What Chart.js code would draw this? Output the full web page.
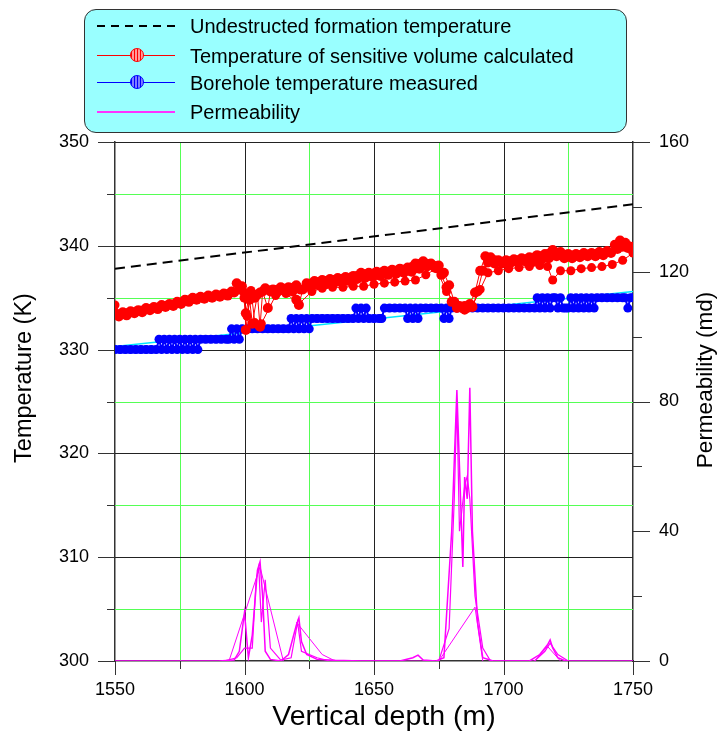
<!DOCTYPE html>
<html>
<head>
<meta charset="utf-8">
<script src="https://cdn.jsdelivr.net/npm/chart.js@4.4.1/dist/chart.umd.min.js"></script>
<style>
  body { margin: 0; background: #fff; }
  #wrap { position: relative; width: 717px; height: 740px; }
  #legend {
    position: absolute; left: 84px; top: 9px; width: 541px; height: 122px;
    background: #99ffff; border: 1px solid #333; border-radius: 12px;
    font-family: Arial, "Liberation Sans", sans-serif; font-size: 20px; color: #000;
  }
  .row { position: absolute; left: 0; width: 100%; height: 28px; }
  .row .txt { position: absolute; left: 105px; top: 0; line-height: 28px; white-space: nowrap; }
  .row .ln { position: absolute; left: 12px; width: 78px; top: 13px; height: 1px; }
  .row .dot {
    position: absolute; left: 45px; top: 6px; width: 12px; height: 12px; border-radius: 50%;
  }
</style>
</head>
<body>
<div id="wrap">
  <canvas id="myChart" width="717" height="740"></canvas>
  <div id="legend">
    <div class="row" style="top:2px">
      <div class="ln" style="height:2px;top:13px;background:repeating-linear-gradient(90deg,#000 0 8px,transparent 8px 14px)"></div>
      <div class="txt">Undestructed formation temperature</div>
    </div>
    <div class="row" style="top:32px">
      <div class="ln" style="background:#ff0000"></div>
      <div class="dot" style="border:1px solid #ff0000;background:repeating-linear-gradient(90deg,#ff0000 0 1px,#ff9999 1px 3px)"></div>
      <div class="txt">Temperature of sensitive volume calculated</div>
    </div>
    <div class="row" style="top:59px">
      <div class="ln" style="background:#0000ff"></div>
      <div class="dot" style="border:1px solid #0000ff;background:repeating-linear-gradient(90deg,#0000ff 0 1px,#7f7fff 1px 3px)"></div>
      <div class="txt">Borehole temperature measured</div>
    </div>
    <div class="row" style="top:88px">
      <div class="ln" style="height:2px;background:#ff33ff"></div>
      <div class="txt">Permeability</div>
    </div>
  </div>
</div>
<script>
// undisturbed formation temperature (dashed)
var formationDepth = [1550, 1750];
var formationTemp = [337.8, 344.0];

// calculated temperature of sensitive volume, several overlapping runs
var redDepthA = [1550, 1553, 1556, 1559, 1562, 1565, 1568, 1571, 1574, 1577, 1580, 1583, 1586, 1589, 1592, 1595, 1597, 1599,
  1600.5, 1602, 1604, 1606, 1608, 1611, 1614, 1617, 1620, 1621.5, 1624, 1627, 1630, 1633, 1636, 1639, 1642, 1645, 1648,
  1651, 1654, 1657, 1660, 1663, 1666, 1669, 1672, 1675, 1677, 1679, 1681, 1683, 1685, 1687, 1689, 1691, 1693, 1695, 1698,
  1701, 1704, 1707, 1710, 1713, 1716, 1719, 1722, 1725, 1728, 1731, 1734, 1737, 1740, 1743, 1745, 1747, 1750];
var redTempA = [333.5, 333.6, 333.7, 333.8, 334.0, 334.1, 334.3, 334.4, 334.6, 334.8, 335.0, 335.1, 335.2, 335.3, 335.4, 335.6, 336.4, 336.1,
  333.5, 335.4, 335.0, 335.5, 335.9, 335.8, 336.0, 336.0, 336.2, 335.8, 336.4, 336.6, 336.7, 336.8, 336.9, 337.0, 337.1, 337.4, 337.4,
  337.5, 337.6, 337.7, 337.8, 337.9, 338.3, 338.5, 338.3, 338.1, 337.4, 336.2, 334.6, 334.2, 334.2, 334.4, 335.5, 337.6, 339.0, 338.9, 338.6,
  338.6, 338.7, 338.8, 338.9, 339.1, 339.2, 339.6, 339.4, 339.2, 339.2, 339.3, 339.3, 339.4, 339.5, 340.1, 340.5, 340.3, 339.9];
var redDepthB = [1551.5, 1554.5, 1557.5, 1560.5, 1563.5, 1566.5, 1569.5, 1572.5, 1575.5, 1578.5, 1581.5, 1584.5, 1587.5, 1590.5,
  1593.5, 1596, 1598, 1600, 1600.5, 1602, 1603, 1605, 1606, 1607, 1609, 1610, 1612.5, 1615.5, 1618.5, 1620, 1621, 1622.5, 1625.5,
  1628.5, 1631.5, 1634.5, 1637.5, 1640.5, 1643.5, 1646.5, 1649.5, 1652.5, 1655.5, 1658.5, 1661.5, 1664.5, 1667.5, 1670.5, 1673.5,
  1676, 1678, 1680, 1682, 1684, 1686, 1688, 1690, 1692, 1694, 1696.5, 1699.5, 1702.5, 1705.5, 1708.5, 1711.5, 1714.5, 1717.5,
  1720.5, 1723.5, 1726.5, 1729.5, 1732.5, 1735.5, 1738.5, 1741.5, 1744, 1746, 1748, 1750];
var redTempB = [333.2, 333.3, 333.5, 333.6, 333.8, 333.9, 334.1, 334.2, 334.4, 334.6, 334.8, 334.9, 335.0, 335.1,
  335.2, 335.5, 335.8, 335.0, 331.9, 334.8, 332.5, 335.3, 332.2, 335.6, 334.0, 335.6, 335.5, 335.7, 335.6, 334.8, 334.3, 335.8, 336.0,
  336.2, 336.3, 336.4, 336.5, 336.6, 336.8, 336.9, 337.0, 337.1, 337.2, 337.3, 337.4, 337.5, 337.8, 338.0, 337.9,
  337.2, 336.0, 334.6, 334.0, 334.0, 334.0, 334.1, 335.6, 337.6, 338.4, 338.3, 338.3, 338.3, 338.4, 338.5, 338.5, 338.6, 338.8,
  339.0, 338.8, 338.8, 338.9, 339.0, 339.0, 339.1, 339.3, 339.7, 339.9, 339.8, 339.5];
var redDepthC = [1550, 1551, 1599.5, 1601, 1602.5, 1604, 1605.5, 1606.5, 1612, 1616, 1621, 1626, 1630, 1634, 1638, 1642, 1646, 1650,
  1654, 1658, 1662, 1666, 1670, 1674, 1678, 1682, 1685, 1688, 1691, 1694, 1698, 1702, 1706, 1710, 1714, 1717, 1719, 1722, 1726, 1730,
  1734, 1738, 1742, 1746, 1750];
var redTempC = [334.3, null, 335.6, 333.2, 335.7, 332.6, 332.3, 332.5, 335.2, 335.4, 334.4, 335.6, 335.9, 336.0, 336.0, 336.1, 336.1, 336.3,
  336.4, 336.5, 336.6, 336.7, 337.2, 337.8, 335.6, 334.3, 333.8, 334.2, 335.8, 337.4, 337.6, 337.8, 337.9, 338.0, 338.1, 338.0, 336.7, 337.6, 337.6, 337.8,
  337.9, 338.0, 338.2, 338.6, 339.3];

// measured borehole temperature (1 K resolution steps)
var blueDepth = [1550, 1552, 1554, 1556, 1558, 1560, 1562, 1564, 1566,
  1567, 1568, 1569, 1570, 1571, 1572, 1573, 1574, 1575, 1576, 1577, 1578, 1579, 1580, 1581, 1582,
  1583, 1585, 1587, 1589, 1591, 1593, 1594, 1595, 1596, 1597, 1598, 1599,
  1601, 1603, 1605, 1607, 1609, 1611, 1613, 1615, 1617, 1618, 1619, 1620, 1621, 1622, 1623, 1624, 1625,
  1626, 1628, 1630, 1632, 1634, 1636, 1638, 1640, 1642, 1643, 1644, 1645, 1646, 1647, 1648, 1650, 1652, 1653,
  1654, 1656, 1658, 1660, 1662, 1663, 1664, 1665, 1666, 1667, 1668, 1670, 1672, 1674, 1676, 1677, 1678, 1679, 1680,
  1682, 1684, 1686, 1688, 1690, 1692, 1694, 1696, 1698, 1700, 1702, 1704, 1706, 1708, 1710, 1712,
  1713, 1714, 1715, 1716, 1717, 1718, 1719, 1720, 1721, 1722, 1723, 1724, 1725, 1726, 1727, 1728, 1729, 1730,
  1731, 1732, 1733, 1734, 1735, 1736, 1738, 1740, 1742, 1744, 1746, 1747, 1748, 1749, 1750];
var blueTemp = [330, 330, 330, 330, 330, 330, 330, 330, 330,
  331, 330, 331, 330, 331, 330, 331, 330, 331, 330, 331, 330, 331, 330, 331, 330,
  331, 331, 331, 331, 331, 331, 331, 332, 331, 332, 331, 332,
  332, 332, 332, 332, 332, 332, 332, 332, 332, 333, 332, 333, 332, 333, 332, 333, 332,
  333, 333, 333, 333, 333, 333, 333, 333, 333, 334, 333, 334, 333, 334, 333, 333, 333, 333,
  334, 334, 334, 334, 334, 333, 334, 333, 334, 333, 334, 334, 334, 334, 334, 333, 334, 333, 334,
  334, 334, 334, 334, 334, 334, 334, 334, 334, 334, 334, 334, 334, 334, 334, 334,
  335, 334, 335, 334, 335, 334, 335, 335, 334, 335, 334, 334, 334, 335, 334, 335, 334, 335,
  334, 335, 334, 335, 334, 335, 335, 335, 335, 335, 335, 335, 334, 335, 335];

// thin cyan trend under the measured steps
var trendDepth = [1550, 1750];
var trendTemp = [330.3, 335.6];

// permeability (md), several runs
var permDepthA = [1550, 1590, 1596, 1598, 1600, 1601.5, 1603, 1605, 1606, 1607, 1608, 1610, 1614, 1617, 1620, 1621, 1622, 1624, 1628,
  1635, 1645, 1660, 1665, 1667, 1669, 1674, 1677, 1680, 1682, 1683, 1684.3, 1685, 1686, 1687, 1688, 1690, 1692, 1696, 1710, 1714,
  1717, 1718, 1719, 1721, 1724, 1750];
var permA = [0, 0, 0.3, 3, 15, 1, 8, 28, 30.6, 20, 3, 0.5, 0, 2, 11, 13.3, 6, 2, 0.5,
  0.2, 0, 0, 1, 1.8, 0.3, 0, 1, 40, 83.5, 60, 29, 56.7, 50, 84.2, 40, 12, 1, 0, 0, 2,
  5, 6.5, 4, 1, 0, 0];
var permDepthB = [1592, 1597, 1600, 1603, 1604.5, 1605.5, 1606.5, 1608, 1610, 1614, 1618, 1620.5, 1622, 1628, 1633, 1675, 1679,
  1681, 1682, 1683, 1685, 1686, 1687, 1689, 1692, 1695, 1712, 1716, 1718, 1721, 1725];
var permB = [0, 1, 4, 4, 25, 29, 12, 25, 4, 0.3, 1, 12, 3, 1, 0, 0, 10,
  50, 80, 40, 54, 57, 50, 20, 4, 0, 0, 3, 5.5, 2, 0];
var permDepthC = [1594, 1606, 1615, 1616, 1620, 1630, 1635, 1636, 1675, 1689, 1692, 1693, 1712, 1717, 1722];
var permC = [0, 29, 0, null, 12, 2, 0, null, 0, 16.6, 0, null, 0, 4.5, 0];

function pts(xs, ys) {
  return xs.map(function (x, i) { return { x: x, y: ys[i] }; });
}

var FONT = 'Arial, "Liberation Sans", sans-serif';
var GREEN = '#55ff55';
var DARK = '#222';

// black major / green minor grid, drawn from the scales' own ticks
var gridLines = {
  id: 'gridLines',
  beforeDatasetsDraw: function (chart) {
    var ctx = chart.ctx, x = chart.scales.x, y = chart.scales.y;
    var a = chart.chartArea;
    ctx.save();
    ctx.lineWidth = 1;
    x.ticks.forEach(function (t) {
      if (t.value === x.min || t.value === x.max) return;
      var px = Math.round(x.getPixelForValue(t.value)) + 0.5;
      ctx.strokeStyle = t.value % 50 === 0 ? DARK : GREEN;
      ctx.beginPath(); ctx.moveTo(px, a.top); ctx.lineTo(px, a.bottom); ctx.stroke();
    });
    y.ticks.forEach(function (t) {
      if (t.value === y.min) return;
      var py = Math.round(y.getPixelForValue(t.value)) + 0.5;
      ctx.strokeStyle = t.value % 10 === 0 ? DARK : GREEN;
      ctx.beginPath(); ctx.moveTo(a.left, py); ctx.lineTo(a.right, py); ctx.stroke();
    });
    ctx.restore();
  }
};

function drawText(ctx, text, size, x, y, angle) {
  ctx.save();
  ctx.fillStyle = '#000';
  ctx.font = size + 'px ' + FONT;
  ctx.textAlign = 'center';
  ctx.textBaseline = 'middle';
  ctx.translate(x, y);
  ctx.rotate(angle);
  ctx.fillText(text, 0, 0);
  ctx.restore();
}

// tick marks drawn by hand: long major, short minor; axis titles placed as in the source
var tickMarks = {
  id: 'tickMarks',
  afterDraw: function (chart) {
    var ctx = chart.ctx, x = chart.scales.x, y = chart.scales.y, y1 = chart.scales.y1;
    var a = chart.chartArea;
    ctx.save();
    ctx.strokeStyle = '#333';
    ctx.lineWidth = 1;
    ctx.beginPath();
    y.ticks.forEach(function (t) {
      var py = Math.round(y.getPixelForValue(t.value)) + 0.5;
      var len = t.value % 10 === 0 ? 17 : 8;
      ctx.moveTo(a.left - len, py); ctx.lineTo(a.left, py);
    });
    y1.ticks.forEach(function (t) {
      var py = Math.round(y1.getPixelForValue(t.value)) + 0.5;
      var len = t.value % 40 === 0 ? 17 : 9;
      ctx.moveTo(a.right, py); ctx.lineTo(a.right + len, py);
    });
    x.ticks.forEach(function (t) {
      var px = Math.round(x.getPixelForValue(t.value)) + 0.5;
      var len = t.value % 50 === 0 ? 14 : 8;
      ctx.moveTo(px, a.bottom); ctx.lineTo(px, a.bottom + len);
    });
    ctx.stroke();
    ctx.restore();

    drawText(ctx, 'Vertical depth (m)', 28.5, 384, 717, 0);
    drawText(ctx, 'Temperature (K)', 23.5, 25, 378, -Math.PI / 2);
    drawText(ctx, 'Permeability (md)', 22.5, 706, 380, -Math.PI / 2);
  }
};

// dense runs merge into a solid band, long jumps stay thin
function bandWidth(thick) {
  return function (c) {
    var dx = Math.abs(c.p1.x - c.p0.x), dy = Math.abs(c.p1.y - c.p0.y);
    return dy < 5 && dx < 12 ? thick : 1;
  };
}

function redSet(label, data, r, thick) {
  return { label: label, data: data, borderColor: '#ff0000', backgroundColor: '#ff0000', borderWidth: 1,
    segment: { borderWidth: bandWidth(thick) },
    pointRadius: r, pointBorderWidth: 0, spanGaps: false, yAxisID: 'y' };
}
function permSet(label, data, w) {
  return { label: label, data: data, borderColor: '#ff00ff', borderWidth: w, pointRadius: 0, spanGaps: false, yAxisID: 'y1' };
}

var ctx = document.getElementById('myChart').getContext('2d');
var myChart = new Chart(ctx, {
  type: 'line',
  data: {
    datasets: [
      redSet('Temperature of sensitive volume calculated', pts(redDepthA, redTempA), 5, 7),
      redSet('calc B', pts(redDepthB, redTempB), 5, 6),
      redSet('calc C', pts(redDepthC, redTempC), 4.5, 1),
      { label: 'Borehole temperature measured', data: pts(blueDepth, blueTemp), borderColor: '#0000ff', backgroundColor: '#0000ff',
        borderWidth: 2, segment: { borderWidth: function (c) { return Math.abs(c.p1.y - c.p0.y) < 1 ? 8 : 2; } },
        pointRadius: 4.5, pointBorderWidth: 0, yAxisID: 'y' },
      { label: 'trend', data: pts(trendDepth, trendTemp), borderColor: '#00e5ff', borderWidth: 1.5, pointRadius: 0, yAxisID: 'y' },
      { label: 'Undestructed formation temperature', data: pts(formationDepth, formationTemp), borderColor: '#000', borderWidth: 2, borderDash: [10, 6], pointRadius: 0, yAxisID: 'y' },
      permSet('Permeability', pts(permDepthA, permA), 1.5),
      permSet('perm B', pts(permDepthB, permB), 1.2),
      permSet('perm C', pts(permDepthC, permC), 1)
    ]
  },
  options: {
    responsive: false,
    animation: false,
    events: [],
    layout: { padding: { top: 142, left: 0, right: 0, bottom: 0 } },
    plugins: { legend: { display: false }, tooltip: { enabled: false } },
    scales: {
      x: {
        type: 'linear', min: 1550, max: 1750,
        afterFit: function (s) { s.height = 79; },
        ticks: { stepSize: 25, autoSkip: false, maxRotation: 0, padding: 18, color: '#000', font: { family: FONT, size: 18 },
          callback: function (v) { return v % 50 === 0 ? v : ''; } },
        grid: { display: false, drawTicks: false },
        border: { color: '#333', width: 1.5 }
      },
      y: {
        position: 'left', min: 300, max: 350,
        afterFit: function (s) { s.width = 115; },
        ticks: { stepSize: 5, autoSkip: false, padding: 26, color: '#000', font: { family: FONT, size: 18 },
          callback: function (v) { return v % 10 === 0 ? v : ''; } },
        grid: { display: false, drawTicks: false },
        border: { color: '#333', width: 1.5 }
      },
      y1: {
        position: 'right', min: 0, max: 160,
        afterFit: function (s) { s.width = 84; },
        ticks: { stepSize: 20, autoSkip: false, padding: 26, color: '#000', font: { family: FONT, size: 18 },
          callback: function (v) { return v % 40 === 0 ? v : ''; } },
        grid: { display: false, drawTicks: false },
        border: { color: '#333', width: 1.5 }
      }
    }
  },
  plugins: [gridLines, tickMarks]
});
</script>
</body>
</html>
